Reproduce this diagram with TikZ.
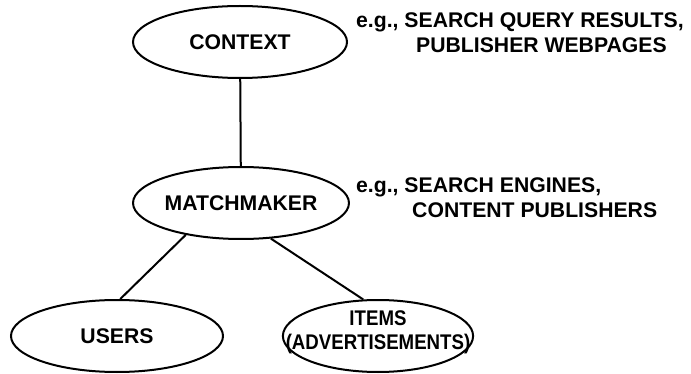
\documentclass[tikz,border=0pt]{standalone}
\usepackage{fontspec}
\setmainfont{Liberation Sans}
\newfontfamily\narrowsans[FakeStretch=0.88]{Liberation Sans}
\usetikzlibrary{shapes.geometric}
\begin{document}
\begin{tikzpicture}[x=1pt,y=-1pt,
  font=\fontsize{21.2}{25}\selectfont\bfseries,
  role/.style={ellipse,draw,line width=2pt,inner sep=0pt,minimum height=72pt,align=center},
  link/.style={line width=2pt},
  example/.style={anchor=north west,inner sep=0pt,align=left}]
\useasboundingbox (0,0) rectangle (691,374);
\node[role,minimum width=214pt] (context) at (240,42) {CONTEXT};
\node[role,minimum width=214pt] (matchmaker) at (241,203) {MATCHMAKER};
\node[role,minimum width=212pt] (users) at (117,336) {USERS};
\node[role,minimum width=190pt,inner xsep=-25pt,font=\narrowsans\fontsize{21.2}{24}\selectfont\bfseries]
  (items) at (378,336) {ITEMS\\(ADVERTISEMENTS)\\[-12pt]};
\node[example] (contextex) at (356,13)
  {e.g., SEARCH QUERY RESULTS,\\\hspace*{60pt}PUBLISHER WEBPAGES};
\node[example] (matchmakerex) at (356,177)
  {e.g., SEARCH ENGINES,\\\hspace*{56pt}CONTENT PUBLISHERS};
\draw[link] (context) -- (matchmaker);
\draw[link] (matchmaker.210) -- (users.85);
\draw[link] (matchmaker.-50) -- (items.112);
\end{tikzpicture}
\end{document}
